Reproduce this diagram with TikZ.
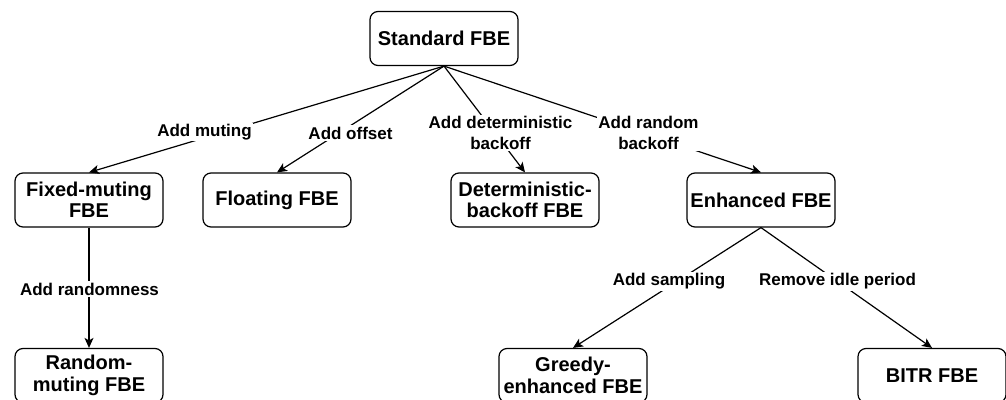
\documentclass[tikz,border=0pt]{standalone}
\usepackage{fontspec}
\setmainfont{Liberation Sans}
\usetikzlibrary{arrows.meta}
\tikzset{
  box/.style={draw=black, line width=1.2pt, rounded corners=8pt, minimum width=148pt, minimum height=54pt, inner sep=0pt, align=center, font=\fontsize{20}{21.5}\selectfont\bfseries},
  lbl/.style={fill=white, inner sep=1.5pt, align=center, font=\fontsize{17}{20.5}\selectfont\bfseries},
  conn/.style={line width=1.2pt, -{Stealth[length=10pt,width=9pt,inset=2.5pt]}},
}
\begin{document}
\begin{tikzpicture}[x=1pt,y=-1pt]
\useasboundingbox (0,0) rectangle (1006,399);
\node[box] (std) at (444,38.5) {Standard FBE};
\node[box] (fix) at (89,200) {Fixed-muting\\FBE};
\node[box] (flo) at (277,200) {Floating FBE};
\node[box] (det) at (525,200) {Deterministic-\\backoff FBE};
\node[box] (enh) at (761,200) {Enhanced FBE};
\node[box] (rnd) at (89,375.5) {Random-\\muting FBE};
\node[box] (gre) at (573,375.5) {Greedy-\\enhanced FBE};
\node[box] (bit) at (932,375.5) {BITR FBE};
\draw[conn] (std.south) -- (fix.north);
\draw[conn] (std.south) -- (flo.north);
\draw[conn] (std.south) -- (det.north);
\draw[conn] (std.south) -- (enh.north);
\draw[conn] (fix.south) -- (rnd.north);
\draw[conn] (enh.south) -- (gre.north);
\draw[conn] (enh.south) -- (bit.north);
\node[lbl] (l1) at (204.5,132) {Add muting};
\node[lbl] (l2) at (350.5,133) {Add offset};
\node[lbl] (l3) at (500.5,133) {Add deterministic\\backoff};
\node[lbl] (l4) at (648.5,133) {Add random\\backoff};
\node[lbl] (l5) at (89.5,289) {Add randomness};
\node[lbl] (l6) at (669,281.5) {Add sampling};
\node[lbl] (l7) at (837.5,281.5) {Remove idle period};
\end{tikzpicture}
\end{document}
